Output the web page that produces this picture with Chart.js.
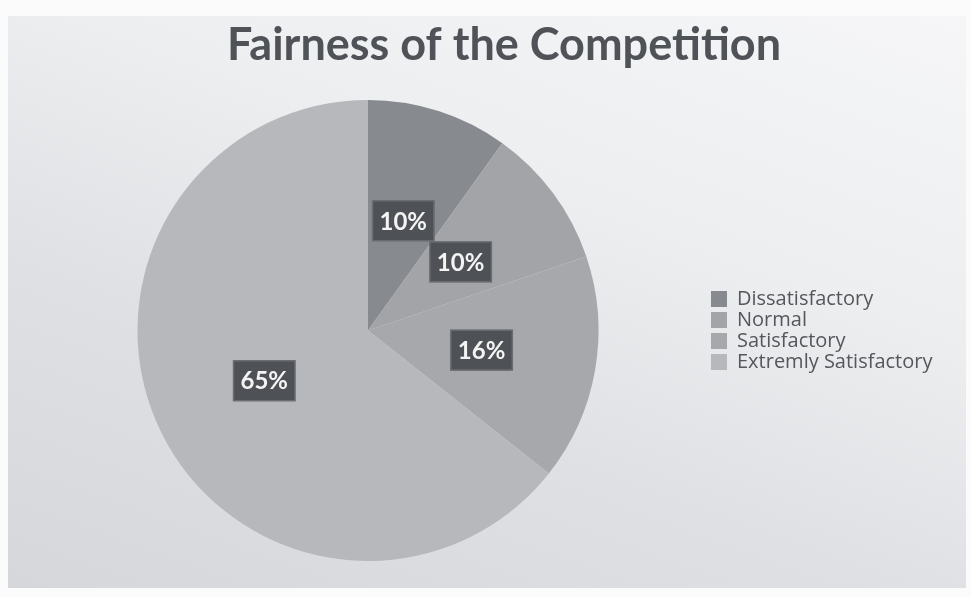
<!DOCTYPE html>
<html>
<head>
<meta charset="utf-8">
<script src="https://cdn.jsdelivr.net/npm/chart.js@4.4.1/dist/chart.umd.min.js"></script>
<style>
  html, body { margin: 0; padding: 0; background: #fbfbfb; }
  #wrap { position: relative; width: 971px; height: 597px; overflow: hidden; }
  #bg { position: absolute; left: 8px; top: 16px; width: 958px; height: 572px;
        background: linear-gradient(200deg, #f6f6f8 0%, #eceef0 35%, #dfe0e3 65%, #d6d7db 100%); }
  #c { position: absolute; left: 0; top: 0; }
</style>
</head>
<body>
<div id="wrap">
  <div id="bg"></div>
  <canvas id="c" width="971" height="597"></canvas>
</div>
<script>
const titleText = "Fairness of the Competition";
const categories = ["Dissatisfactory", "Normal", "Satisfactory", "Extremly Satisfactory"];
const values = [10, 10, 16, 65];
const valueLabels = ["10%", "10%", "16%", "65%"];
const sliceColors = ["#878a8e", "#a2a4a8", "#a6a8ac", "#b6b8bc"];

const sliceLabelPlugin = {
  id: "sliceLabels",
  afterDatasetsDraw(chart) {
    const ctx = chart.ctx;
    const meta = chart.getDatasetMeta(0);
    ctx.save();
    ctx.font = "bold 24px Lato";
    ctx.textAlign = "center";
    ctx.textBaseline = "middle";
    meta.data.forEach((arc, i) => {
      const p = arc.getCenterPoint();
      const t = valueLabels[i];
      const w = ctx.measureText(t).width + 14;
      const h = 40;
      ctx.fillStyle = "#4e5155";
      ctx.fillRect(p.x - w / 2, p.y - h / 2, w, h);
      ctx.strokeStyle = "#6a6d71";
      ctx.lineWidth = 1.5;
      ctx.strokeRect(p.x - w / 2, p.y - h / 2, w, h);
      ctx.fillStyle = "#f4f4f4";
      ctx.fillText(t, p.x, p.y + 1);
    });
    ctx.restore();
  }
};

// widen the legend box so that the title centre and the pie centre sit like the reference
const legendWidthPlugin = {
  id: "legendWidth",
  beforeLayout(chart) {
    const lg = chart.legend;
    if (lg && !lg._widened) {
      const orig = lg.fit;
      lg.fit = function () { orig.call(this); this.width = 272; };
      lg._widened = true;
    }
  }
};

new Chart(document.getElementById("c"), {
  type: "pie",
  data: {
    labels: categories,
    datasets: [{
      data: values,
      backgroundColor: sliceColors,
      borderWidth: 0
    }]
  },
  options: {
    responsive: false,
    animation: false,
    layout: { padding: { top: 18, bottom: 36, left: 26, right: -11 } },
    plugins: {
      title: {
        display: true,
        text: titleText,
        color: "#4f5256",
        font: { family: "Lato", size: 45, weight: "bold" },
        padding: { top: 0, bottom: 28 }
      },
      legend: {
        position: "right",
        fullSize: false,
        labels: {
          boxWidth: 16,
          boxHeight: 16,
          padding: 1,
          color: "#54575b",
          font: { family: "Open Sans", size: 20 }
        }
      },
      tooltip: { enabled: false }
    }
  },
  plugins: [sliceLabelPlugin, legendWidthPlugin]
});
</script>
</body>
</html>
